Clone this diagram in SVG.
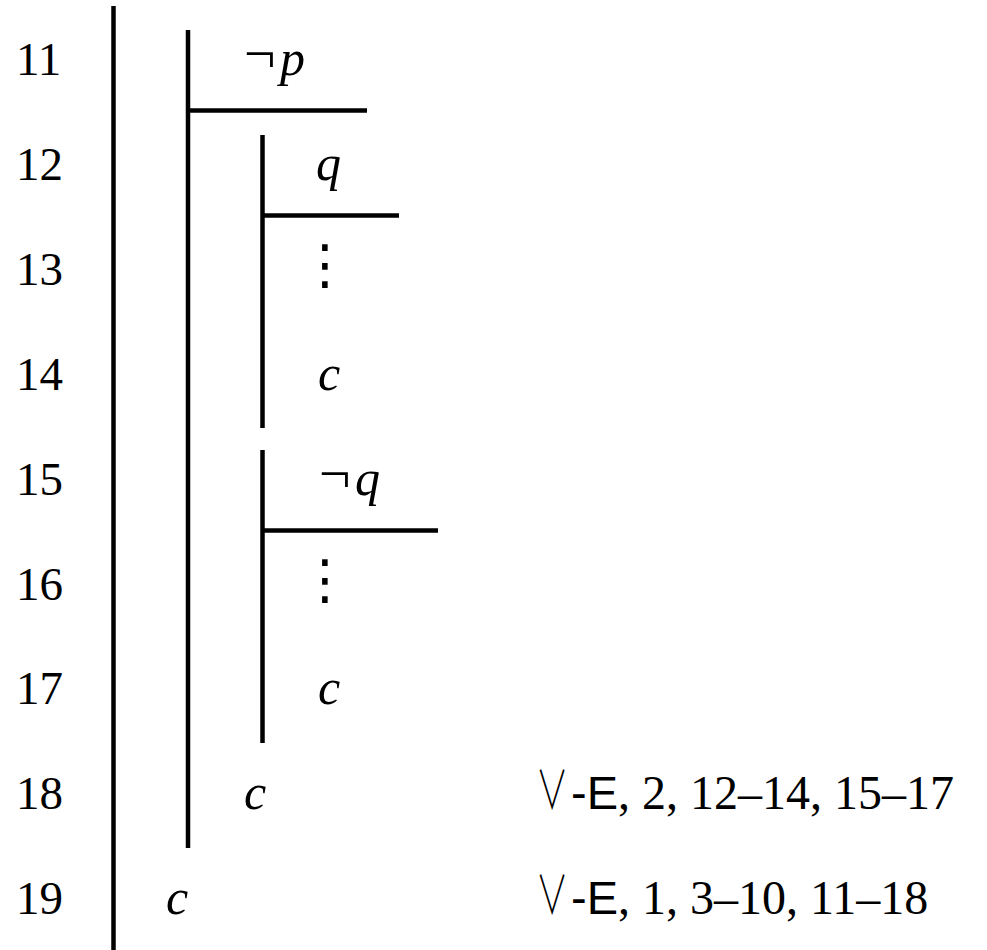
<svg xmlns="http://www.w3.org/2000/svg" width="987" height="950" viewBox="0 0 987 950">
<style>
.num{font-family:"Liberation Serif","Times New Roman",serif;font-size:47px;fill:#000}
.it{font-family:"Liberation Serif","Times New Roman",serif;font-style:italic;font-size:50px;fill:#000}
.rm{font-family:"Liberation Serif","Times New Roman",serif;font-size:48px;fill:#000}
.neg{font-family:"Liberation Serif","Times New Roman",serif;font-size:56px;fill:#000}
.sf{font-family:"Liberation Sans",Arial,sans-serif;font-size:47px;fill:#000}
.or{font-family:"Noto Sans CJK JP","DejaVu Sans",sans-serif;font-weight:300;font-size:46px;fill:#000}
.vd{font-family:"DejaVu Serif","DejaVu Sans",serif;font-size:54px;fill:#000}
.bar{stroke:#000;stroke-width:4.5;fill:none}
</style>
<rect width="987" height="950" fill="#fff"/>
<g id="connectors">
<line class="bar" x1="113.5" y1="6" x2="113.5" y2="950"/>
<line class="bar" x1="188" y1="30" x2="188" y2="848"/>
<line class="bar" x1="188" y1="110.5" x2="367" y2="110.5"/>
<line class="bar" x1="262.5" y1="135" x2="262.5" y2="428"/>
<line class="bar" x1="262.5" y1="215.5" x2="399" y2="215.5"/>
<line class="bar" x1="262.5" y1="450" x2="262.5" y2="743"/>
<line class="bar" x1="262.5" y1="530.5" x2="438" y2="530.5"/>
</g>
<g id="line-numbers">
<text class="num" x="16" y="75">11</text>
<text class="num" x="16" y="180">12</text>
<text class="num" x="16" y="285">13</text>
<text class="num" x="16" y="390">14</text>
<text class="num" x="16" y="495">15</text>
<text class="num" x="16" y="600">16</text>
<text class="num" x="16" y="704">17</text>
<text class="num" x="16" y="809">18</text>
<text class="num" x="16" y="914">19</text>
</g>
<g id="row11"><text class="neg" x="244" y="73">¬</text><text class="it" x="280" y="75">p</text></g>
<g id="row12"><text class="it" x="316" y="180">q</text></g>
<g id="row13"><text class="vd" text-anchor="middle" x="325" y="283">⋮</text></g>
<g id="row14"><text class="it" x="318" y="390">c</text></g>
<g id="row15"><text class="neg" x="319" y="493">¬</text><text class="it" x="355" y="495">q</text></g>
<g id="row16"><text class="vd" text-anchor="middle" x="325" y="598">⋮</text></g>
<g id="row17"><text class="it" x="318" y="704">c</text></g>
<g id="row18"><text class="it" x="244" y="809">c</text>
<text class="or" transform="translate(536,809) scale(0.7,1.15)" x="0" y="0">∨</text><text class="sf" x="571" y="809">-E<tspan class="rm">, 2, 12–14, 15–17</tspan></text></g>
<g id="row19"><text class="it" x="166" y="914">c</text>
<text class="or" transform="translate(536,914) scale(0.7,1.15)" x="0" y="0">∨</text><text class="sf" x="571" y="914">-E<tspan class="rm">, 1, 3–10, 11–18</tspan></text></g>
</svg>
